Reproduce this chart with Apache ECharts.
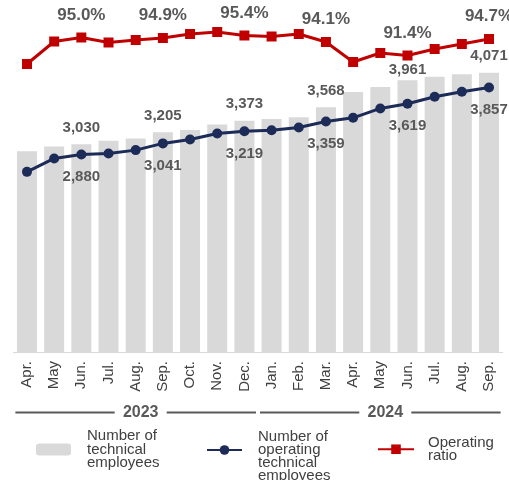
<!DOCTYPE html>
<html><head><meta charset="utf-8">
<script src="https://cdn.jsdelivr.net/npm/echarts@6/dist/echarts.min.js"></script>
<style>html,body{margin:0;padding:0;background:#fff}#c{width:509px;height:480px}</style>
</head><body><div id="c"></div>
<script>
const months = ['Apr.','May','Jun.','Jul.','Aug.','Sep.','Oct.','Nov.','Dec.','Jan.','Feb.','Mar.','Apr.','May','Jun.','Jul.','Aug.','Sep.'];
const years = ['2023','2024'];
const yearFirst = [0, 9];
const yearLast = [8, 17];
const technical = [2928,2996,3030,3079,3114,3205,3238,3315,3373,3397,3421,3568,3789,3864,3961,4013,4048,4071];
const operating = [2626,2822,2880,2894,2943,3041,3099,3186,3219,3234,3274,3359,3414,3551,3619,3720,3793,3857];
const ratio = [89.7,94.2,95.0,94.0,94.5,94.9,95.7,96.1,95.4,95.2,95.7,94.1,90.1,91.9,91.4,92.7,93.7,94.7];
const labeled = [2,5,8,11,14,17];
const seriesNames = ['Number of\ntechnical\nemployees', 'Number of\noperating\ntechnical\nemployees', 'Operating\nratio'];

const FONT = "'Liberation Sans', Arial, sans-serif";
const fmtNum = v => v.toLocaleString('en-US');
const chart = echarts.init(document.getElementById('c'), null, {renderer:'canvas'});
const lblStyle = {fontFamily: FONT, fontWeight: 'bold', color: '#595959'};
const legendText = {fontFamily: FONT, fontSize: 15, lineHeight: 13.5, color: '#404040'};

chart.setOption({
  animation: false,
  backgroundColor: '#fff',
  grid: {left: 13.4, right: 6.4, top: 20, bottom: 128, containLabel: false},
  xAxis: {
    type: 'category', data: months,
    axisTick: {show: false},
    axisLine: {show: true, lineStyle: {color: '#d9d9d9', width: 1}},
    axisLabel: {rotate: 90, margin: 9, fontSize: 15, color: '#404040', fontFamily: FONT, interval: 0}
  },
  yAxis: [
    {type: 'value', min: 0, max: 4840, show: false, splitLine: {show: false}},
    {type: 'value', min: 32.1, max: 98.5, show: false, splitLine: {show: false}}
  ],
  legend: [
    {left: 36, top: 428.5, padding: 0, itemWidth: 35, itemHeight: 12, data: [seriesNames[0]],
     textStyle: {...legendText, padding: [0,0,0,11]}},
    {left: 206, top: 416.5, padding: 0, itemWidth: 35, itemHeight: 12, data: [seriesNames[1]],
     formatter: n => '\n' + n,
     textStyle: {...legendText, lineHeight: 13, padding: [0,0,0,11]}},
    {left: 377, top: 435.5, padding: 0, itemWidth: 36, itemHeight: 12, data: [seriesNames[2]],
     textStyle: {...legendText, lineHeight: 12.5, padding: [0,0,0,9]}}
  ],
  series: [
    {
      name: seriesNames[0], type: 'bar', yAxisIndex: 0,
      barWidth: 20, itemStyle: {color: '#d9d9d9'},
      data: technical.map((v, i) => ({value: v, label: i === 14 ? {distance: 3} : undefined})),
      label: {show: true, position: 'top', distance: 9, fontSize: 15, ...lblStyle,
        formatter: p => labeled.includes(p.dataIndex) ? fmtNum(p.value) : ''}
    },
    {
      name: seriesNames[1], type: 'line', yAxisIndex: 0,
      data: operating, color: '#1c2b57', symbol: 'circle', symbolSize: 10,
      lineStyle: {width: 3, color: '#1c2b57'}, itemStyle: {color: '#1c2b57'}, z: 3,
      label: {show: true, position: 'bottom', distance: 10, fontSize: 15, ...lblStyle,
        formatter: p => labeled.includes(p.dataIndex) ? fmtNum(p.value) : ''}
    },
    {
      name: seriesNames[2], type: 'line', yAxisIndex: 1,
      data: ratio, color: '#c00000', symbol: 'rect', symbolSize: 10,
      lineStyle: {width: 3, color: '#c00000'}, itemStyle: {color: '#c00000'}, z: 4,
      label: {show: true, position: 'top', distance: 9, fontSize: 17, ...lblStyle,
        formatter: p => labeled.includes(p.dataIndex) ? p.value.toFixed(1) + '%' : ''}
    }
  ]
});

// year group annotations under the month labels
const px = i => chart.convertToPixel({xAxisIndex: 0}, i);
const band = px(1) - px(0);
const graphics = [];
const lineY = 412.5;
years.forEach((y, k) => {
  const left = px(yearFirst[k]) - band / 2 + 2;
  const right = px(yearLast[k]) + band / 2 - 2;
  const cx = (left + right) / 2 + 5;
  const half = 26;
  graphics.push({type: 'line', shape: {x1: left, y1: lineY, x2: cx - half, y2: lineY}, style: {stroke: '#595959', lineWidth: 2}});
  graphics.push({type: 'line', shape: {x1: cx + half, y1: lineY, x2: right, y2: lineY}, style: {stroke: '#595959', lineWidth: 2}});
  graphics.push({type: 'text', x: cx, y: lineY + 0.5, style: {text: y, fill: '#595959', font: "bold 16px " + FONT, textAlign: 'center', textVerticalAlign: 'middle'}});
});
chart.setOption({graphic: graphics});
</script>
</body></html>
